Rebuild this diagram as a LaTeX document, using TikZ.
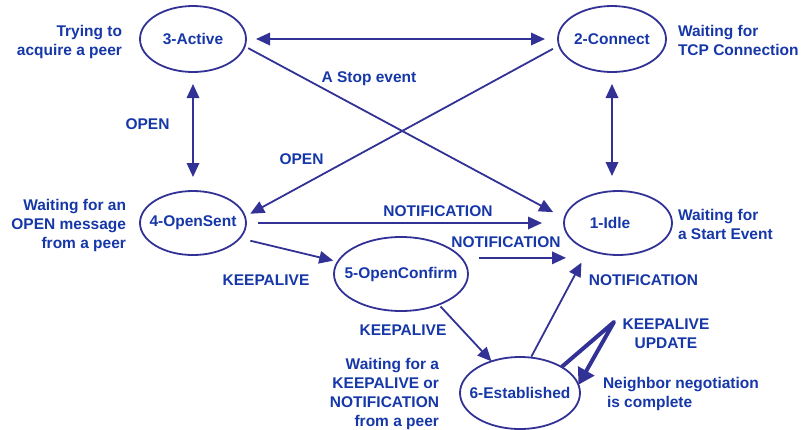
\documentclass[tikz,border=0pt]{standalone}
\usepackage{fontspec}
\setmainfont{Liberation Sans}
\usetikzlibrary{shapes.geometric,arrows.meta,calc}
\definecolor{linecol}{RGB}{50,50,150}
\definecolor{txtblue}{RGB}{22,55,168}
\begin{document}
\begin{tikzpicture}[x=1pt,y=-1pt,
  every node/.style={inner sep=0pt, outer sep=0pt},
  txt/.style={text=txtblue, font=\bfseries\fontsize{15.5}{19}\selectfont},
  state/.style={txt, shape=ellipse, draw=linecol, line width=1.8pt},
  arr/.style={draw=linecol, line width=1.8pt, -{Triangle[length=14pt,width=12.5pt]}},
  darr/.style={draw=linecol, line width=1.8pt, {Triangle[length=14pt,width=12.5pt]}-{Triangle[length=14pt,width=12.5pt]}},
  looparr/.style={draw=linecol, line width=4pt, line join=round, -{Triangle[length=16pt,width=18pt]}}
]
\useasboundingbox (0,0) rectangle (806,429);

% BGP finite state machine: the six states
\node[state, minimum width=106pt, minimum height=66pt] (act) at (193,39) {\makebox[0pt]{3-Active}};
\node[state, minimum width=108pt, minimum height=66pt] (con) at (612,39) {\makebox[0pt]{2-Connect}};
\node[state, minimum width=106pt, minimum height=64pt] (ops) at (193,223) {\makebox[0pt]{4-OpenSent}};
\node[state, minimum width=108pt, minimum height=64pt] (idl) at (618,223) {\makebox[0pt]{1-Idle\hspace*{16pt}}};
\node[state, minimum width=134pt, minimum height=74pt] (ocf) at (401,274) {\makebox[0pt]{5-OpenConfirm}};
\node[state, minimum width=120pt, minimum height=72pt] (est) at (520,393) {\makebox[0pt]{6-Established}};

% transitions
\draw[darr, shorten <=10pt, shorten >=13pt] (act.east) -- (con.west);
\draw[arr, shorten <=4pt, shorten >=13pt] (act.-8.9) -- (idl.175.8);
\draw[arr, shorten <=7pt, shorten >=6pt] (con.187.2) -- (ops.7.8);
\draw[darr, shorten <=12pt, shorten >=14pt] (act.south) -- (ops.north);
\draw[darr, shorten <=12pt, shorten >=15pt] (con.south) -- (con.south |- idl.north);
\draw[arr, shorten <=12pt, shorten >=22pt] (ops.east) -- (ops.east -| idl.west);
\draw[arr, shorten <=11pt, shorten >=4.7pt] (ops.-18.4) -- (ocf.169.4);
\draw[arr, shorten <=17.5pt, shorten >=-2pt] (ocf.15.9) -- (ocf.15.9 -| idl.west);
\draw[arr, shorten <=2.7pt] (ocf.-39.6) -- (est.132.6);
\draw[arr, shorten <=1pt, shorten >=14.5pt] (est.73.5) -- (idl.222.5);
\coordinate (apex) at (614,322);
\draw[looparr] (est.32.2) -- (apex) -- (est.8.7);

% transition labels
\node[txt] (lstop) at (369,78.5) {A Stop event};
\node[txt] (lopen1) at (147.5,124) {OPEN};
\node[txt] (lopen2) at (301.5,159) {OPEN};
\node[txt] (lnot1) at (438,211) {NOTIFICATION};
\node[txt] (lnot2) at (506,242) {NOTIFICATION};
\node[txt] (lnot3) at (643.5,280) {NOTIFICATION};
\node[txt] (lka1) at (266,280) {KEEPALIVE};
\node[txt] (lka2) at (403,330.5) {KEEPALIVE};
\node[txt, align=center] (lkaup) at (666,334) {KEEPALIVE\\UPDATE};

% state descriptions
\node[txt, align=right, anchor=east] (dact) at (122,41.5) {Trying to\\acquire a peer};
\node[txt, align=left, anchor=west] (dcon) at (678,40) {Waiting for\\TCP Connection};
\node[txt, align=right, anchor=east] (dops) at (126,225.5) {Waiting for an\\OPEN message\\from a peer};
\node[txt, align=left, anchor=west] (didl) at (678,224.5) {Waiting for\\a Start Event};
\node[txt, align=right, anchor=east] (docf) at (439,393.5) {Waiting for a\\KEEPALIVE or\\NOTIFICATION\\from a peer};
\node[txt, align=left, anchor=west] (dest) at (603,394) {Neighbor negotiation\\\hspace*{4pt}is complete};
\end{tikzpicture}
\end{document}
